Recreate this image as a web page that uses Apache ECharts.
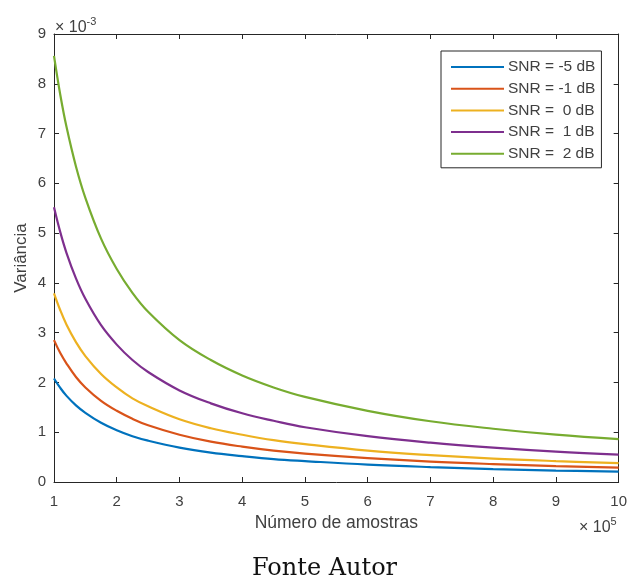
<!DOCTYPE html>
<html>
<head>
<meta charset="utf-8">
<script src="https://cdn.jsdelivr.net/npm/echarts@6/dist/echarts.min.js"></script>
<style>html,body{margin:0;padding:0;background:#fff;}#c{width:630px;height:581px;}</style>
</head>
<body>
<div id="c"></div>
<script>
// Number of samples (x 10^5)
var samples = [1, 1.1, 1.2, 1.35, 1.5, 1.75, 2, 2.25, 2.5, 3, 3.5, 4, 4.5, 5, 6, 7, 8, 9, 10];
// Variance (x 10^-3)
var snrM5 = [2.08, 1.89, 1.73, 1.54, 1.39, 1.19, 1.04, 0.92, 0.83, 0.69, 0.59, 0.52, 0.46, 0.42, 0.35, 0.30, 0.26, 0.23, 0.21];
var snrM1 = [2.85, 2.59, 2.38, 2.11, 1.90, 1.63, 1.43, 1.27, 1.14, 0.95, 0.81, 0.71, 0.63, 0.57, 0.48, 0.41, 0.36, 0.32, 0.29];
var snr0  = [3.79, 3.45, 3.16, 2.81, 2.53, 2.17, 1.90, 1.68, 1.52, 1.26, 1.08, 0.95, 0.84, 0.76, 0.63, 0.54, 0.47, 0.42, 0.38];
var snr1  = [5.52, 5.02, 4.60, 4.09, 3.68, 3.15, 2.76, 2.45, 2.21, 1.84, 1.58, 1.38, 1.23, 1.10, 0.92, 0.79, 0.69, 0.61, 0.55];
var snr2  = [8.56, 7.78, 7.13, 6.34, 5.71, 4.89, 4.28, 3.80, 3.42, 2.85, 2.45, 2.14, 1.90, 1.71, 1.43, 1.22, 1.07, 0.95, 0.86];
var seriesNames = ['SNR = -5 dB', 'SNR = -1 dB', 'SNR =  0 dB', 'SNR =  1 dB', 'SNR =  2 dB'];
var seriesColors = ['#0072BD', '#D95319', '#EDB120', '#7E2F8E', '#77AC30'];
var xTicks = [1, 2, 3, 4, 5, 6, 7, 8, 9, 10];
var yTicks = [0, 1, 2, 3, 4, 5, 6, 7, 8, 9];

var allY = [snrM5, snrM1, snr0, snr1, snr2];
function pairs(ys) { return samples.map(function (x, i) { return [x, ys[i]]; }); }

var font = 'Liberation Sans, Arial, sans-serif';
var txt = '#404040';
var axisCol = '#262626';

var chart = echarts.init(document.getElementById('c'), null, {renderer: 'canvas'});
var axisCommon = {
  type: 'value',
  axisLine: {show: true, onZero: false, lineStyle: {color: axisCol, width: 1}},
  axisTick: {show: true, inside: true, length: 5, lineStyle: {color: axisCol}},
  splitLine: {show: false}
};
var supRich = function (fs) {
  return {a: {fontFamily: font, fontSize: fs, fill: txt, verticalAlign: 'bottom'},
          b: {fontFamily: font, fontSize: 11, fill: txt, verticalAlign: 'top', padding: [0, 0, 9, 0]}};
};
chart.setOption({
  animation: false,
  backgroundColor: '#fff',
  grid: {left: 54, right: 9, top: 34, bottom: 99, containLabel: false},
  legend: {
    orient: 'vertical',
    left: 441, top: 51,
    data: seriesNames,
    icon: 'rect',
    itemWidth: 53, itemHeight: 2,
    itemGap: 5.7,
    padding: [8, 6, 6, 10],
    backgroundColor: '#fff',
    borderColor: axisCol, borderWidth: 1, borderRadius: 0,
    textStyle: {fontFamily: font, fontSize: 15.5, color: txt, lineHeight: 16, padding: [0, 0, 0, -1]}
  },
  xAxis: [
    Object.assign({}, axisCommon, {
      position: 'bottom', min: xTicks[0], max: xTicks[xTicks.length - 1], interval: 1,
      axisLabel: {show: true, margin: 12, fontFamily: font, fontSize: 15, color: txt},
      name: 'Número de amostras', nameLocation: 'middle', nameGap: 29,
      nameTextStyle: {fontFamily: font, fontSize: 17.5, color: txt}
    }),
    Object.assign({}, axisCommon, {
      position: 'top', min: xTicks[0], max: xTicks[xTicks.length - 1], interval: 1,
      axisLabel: {show: false}
    })
  ],
  yAxis: [
    Object.assign({}, axisCommon, {
      position: 'left', min: yTicks[0], max: yTicks[yTicks.length - 1], interval: 1,
      axisLabel: {show: true, margin: 8, fontFamily: font, fontSize: 15, color: txt},
      name: 'Variância', nameLocation: 'middle', nameGap: 24, nameRotate: 90, nameMoveOverlap: false,
      nameTextStyle: {fontFamily: font, fontSize: 17, color: txt}
    }),
    Object.assign({}, axisCommon, {
      position: 'right', min: yTicks[0], max: yTicks[yTicks.length - 1], interval: 1,
      axisLabel: {show: false}
    })
  ],
  series: seriesNames.map(function (n, i) {
    return {
      name: n, type: 'line', data: pairs(allY[i]), smooth: 0.4,
      showSymbol: false, symbol: 'none',
      lineStyle: {color: seriesColors[i], width: 2.2},
      itemStyle: {color: seriesColors[i]}
    };
  }),
  graphic: [
    {type: 'text', left: 55, top: 16, style: {
      text: '{a|× 10}{b|-3}', fill: txt, font: '16px ' + font, rich: supRich(16)
    }},
    {type: 'text', left: 579, top: 516, style: {
      text: '{a|× 10}{b|5}', fill: txt, font: '16px ' + font, rich: supRich(16)
    }},
    {type: 'text', left: 252, top: 557, style: {
      text: 'Fonte Autor', fill: '#111', font: '24px "DejaVu Serif", "Liberation Serif", serif'
    }}
  ]
});
</script>
</body>
</html>
